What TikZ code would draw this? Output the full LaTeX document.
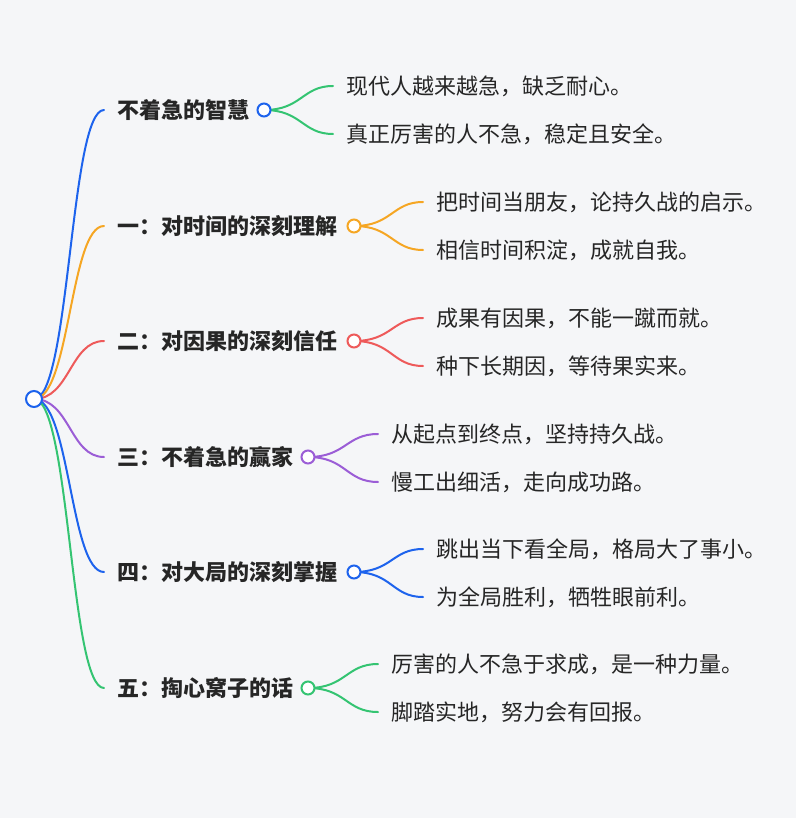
\documentclass[tikz,border=0pt]{standalone}
\usepackage{fontspec}
\setmainfont{Noto Sans CJK SC}
\usetikzlibrary{positioning}

\definecolor{bg}{HTML}{F5F6F8}
\definecolor{txt}{HTML}{262626}
\definecolor{mblue}{HTML}{1D63ED}
\definecolor{morange}{HTML}{F5A623}
\definecolor{mred}{HTML}{EE5A5A}
\definecolor{mpurple}{HTML}{9B5DD6}
\definecolor{mgreen}{HTML}{34C472}

\begin{document}
\begin{tikzpicture}[x=1pt, y=-1pt,
    main/.style={anchor=west, inner sep=0pt, text=txt, font=\fontsize{22}{22}\selectfont\bfseries},
    leaf/.style={anchor=west, inner sep=0pt, text=txt, font=\fontsize{22}{22}\selectfont},
    dot/.style={circle, draw=#1, fill=white, line width=2pt, minimum size=13pt, inner sep=0pt},
    link/.style={draw=#1, line width=2pt, line cap=round}]
    \fill[bg] (0,0) rectangle (796,818);
    \useasboundingbox (0,0) rectangle (796,818);

    % labels of the branches
    \node[main] (b1) at (117,110) {不着急的智慧};
    \node[main] (b2) at (117,226) {一：对时间的深刻理解};
    \node[main] (b3) at (117,341) {二：对因果的深刻信任};
    \node[main] (b4) at (117,457) {三：不着急的赢家};
    \node[main] (b5) at (117,572) {四：对大局的深刻掌握};
    \node[main] (b6) at (117,688) {五：掏心窝子的话};

    % leaves
    \node[leaf] (l11) at (346,86) {现代人越来越急，缺乏耐心。};
    \node[leaf] (l12) at (346,134) {真正厉害的人不急，稳定且安全。};
    \node[leaf] (l21) at (436,202) {把时间当朋友，论持久战的启示。};
    \node[leaf] (l22) at (436,250) {相信时间积淀，成就自我。};
    \node[leaf] (l31) at (436,318) {成果有因果，不能一蹴而就。};
    \node[leaf] (l32) at (436,366) {种下长期因，等待果实来。};
    \node[leaf] (l41) at (391,434) {从起点到终点，坚持持久战。};
    \node[leaf] (l42) at (391,482) {慢工出细活，走向成功路。};
    \node[leaf] (l51) at (436,549) {跳出当下看全局，格局大了事小。};
    \node[leaf] (l52) at (436,597) {为全局胜利，牺牲眼前利。};
    \node[leaf] (l61) at (391,664) {厉害的人不急于求成，是一种力量。};
    \node[leaf] (l62) at (391,712) {脚踏实地，努力会有回报。};

    % curves from the root
    \draw[link=mblue] (34,399) .. controls (70,399) and (70,110) .. ([xshift=-13pt]b1.west);
    \draw[link=morange] (34,399) .. controls (70,399) and (70,226) .. ([xshift=-13pt]b2.west);
    \draw[link=mred] (34,399) .. controls (70,399) and (70,341) .. ([xshift=-13pt]b3.west);
    \draw[link=mpurple] (34,399) .. controls (70,399) and (70,457) .. ([xshift=-13pt]b4.west);
    \draw[link=mblue] (34,399) .. controls (70,399) and (70,572) .. ([xshift=-13pt]b5.west);
    \draw[link=mgreen] (34,399) .. controls (70,399) and (70,688) .. ([xshift=-13pt]b6.west);

    \node[dot=mblue, minimum size=16pt] (root) at (34,399) {};

    % curves to the leaves
    \draw[link=mgreen] (264,110) .. controls (302,110) and (302,86) .. ([xshift=-13pt]l11.west);
    \draw[link=mgreen] (264,110) .. controls (302,110) and (302,134) .. ([xshift=-13pt]l12.west);
    \draw[link=morange] (354,226) .. controls (392,226) and (392,202) .. ([xshift=-13pt]l21.west);
    \draw[link=morange] (354,226) .. controls (392,226) and (392,250) .. ([xshift=-13pt]l22.west);
    \draw[link=mred] (354,341) .. controls (392,341) and (392,318) .. ([xshift=-13pt]l31.west);
    \draw[link=mred] (354,341) .. controls (392,341) and (392,366) .. ([xshift=-13pt]l32.west);
    \draw[link=mpurple] (308,457) .. controls (346,457) and (346,434) .. ([xshift=-13pt]l41.west);
    \draw[link=mpurple] (308,457) .. controls (346,457) and (346,482) .. ([xshift=-13pt]l42.west);
    \draw[link=mblue] (354,572) .. controls (392,572) and (392,549) .. ([xshift=-13pt]l51.west);
    \draw[link=mblue] (354,572) .. controls (392,572) and (392,597) .. ([xshift=-13pt]l52.west);
    \draw[link=mgreen] (308,688) .. controls (346,688) and (346,664) .. ([xshift=-13pt]l61.west);
    \draw[link=mgreen] (308,688) .. controls (346,688) and (346,712) .. ([xshift=-13pt]l62.west);

    % small circles at the branch ends
    \node[dot=mblue] (d1) at (264,110) {};
    \node[dot=morange] (d2) at (354,226) {};
    \node[dot=mred] (d3) at (354,341) {};
    \node[dot=mpurple] (d4) at (308,457) {};
    \node[dot=mblue] (d5) at (354,572) {};
    \node[dot=mgreen] (d6) at (308,688) {};
\end{tikzpicture}
\end{document}
